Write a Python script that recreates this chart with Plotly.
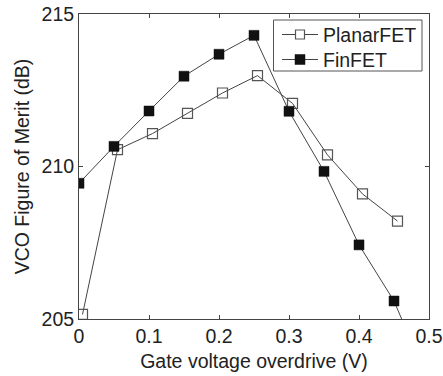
import plotly.graph_objects as go

# Gate voltage overdrive (V)
vov_planar = [0.005, 0.055, 0.105, 0.155, 0.205, 0.255, 0.305, 0.355, 0.405, 0.455]
vov_finfet = [0.0, 0.05, 0.10, 0.15, 0.20, 0.25, 0.30, 0.35, 0.40, 0.45, 0.50]

# VCO figure of merit (dB)
fom_planar = [205.15, 210.55, 211.08, 211.74, 212.41, 212.98, 212.07, 210.38, 209.10, 208.21]
fom_finfet = [209.45, 210.66, 211.82, 212.96, 213.68, 214.30, 211.81, 209.84, 207.43, 205.59, 202.9]

series_names = ["PlanarFET", "FinFET"]

x_ticks = [0, 0.1, 0.2, 0.3, 0.4, 0.5]
x_ticklabels = ["0", "0.1", "0.2", "0.3", "0.4", "0.5"]
y_ticks = [205, 210, 215]

W, H = 443, 376
ML, MR, MT, MB = 79, 14, 14, 57
PW, PH = W - ML - MR, H - MT - MB

font = dict(family="Liberation Sans, Arial, sans-serif", size=19.5, color="#222")
line_col = "#444"
open_col = "#555"
fill_col = "#111"

fig = go.Figure()
fig.add_trace(go.Scatter(
    x=vov_planar, y=fom_planar, name=series_names[0], mode="lines+markers",
    line=dict(color=line_col, width=1),
    marker=dict(symbol="square-open", size=10, color=open_col, line=dict(width=1.2, color=open_col)),
    showlegend=False,
))
fig.add_trace(go.Scatter(
    x=vov_finfet, y=fom_finfet, name=series_names[1], mode="lines+markers",
    line=dict(color=line_col, width=1),
    marker=dict(symbol="square", size=10, color=fill_col, line=dict(width=0.5, color=fill_col)),
    showlegend=False,
))


# Legend box drawn in paper coordinates (pixel offsets from the plot area)
def px(x):
    return (x - ML) / PW


def py(y):
    return (MT + PH - y) / PH


shapes = [dict(type="rect", xref="paper", yref="paper",
               x0=px(273.5), x1=px(422), y0=py(71), y1=py(20),
               line=dict(color="#555", width=1), fillcolor="white", layer="above")]
annotations = []
rows = [(34.5, "open"), (59.5, "filled")]
for (ry, style), name in zip(rows, series_names):
    shapes.append(dict(type="line", xref="paper", yref="paper",
                       x0=px(282), x1=px(318), y0=py(ry), y1=py(ry),
                       line=dict(color=line_col, width=1), layer="above"))
    half = 4.5 if style == "open" else 5
    shapes.append(dict(type="rect", xref="paper", yref="paper",
                       x0=px(300 - half), x1=px(300 + half), y0=py(ry + half), y1=py(ry - half),
                       line=dict(color=open_col if style == "open" else fill_col, width=1.2 if style == "open" else 0.5),
                       fillcolor="white" if style == "open" else fill_col, layer="above"))
    annotations.append(dict(xref="paper", yref="paper", x=px(321), y=py(ry),
                            xanchor="left", yanchor="middle", text=name,
                            showarrow=False, font=font))

axis_common = dict(
    showline=True, linecolor="#444", linewidth=1, mirror="ticks",
    ticks="inside", ticklen=4, tickcolor="#444", tickwidth=1,
    showgrid=False, zeroline=False, tickfont=font, automargin=False,
)

fig.update_layout(
    width=W, height=H,
    margin=dict(l=ML, r=MR, t=MT, b=MB),
    paper_bgcolor="white", plot_bgcolor="white",
    font=font,
    showlegend=False,
    shapes=shapes,
    annotations=annotations,
    xaxis=dict(
        range=[0, 0.5], tickvals=x_ticks, ticktext=x_ticklabels,
        title=dict(text="Gate voltage overdrive (V)", font=font, standoff=7),
        **axis_common,
    ),
    yaxis=dict(
        range=[205, 215], tickvals=y_ticks,
        title=dict(text="VCO Figure of Merit (dB)", font=font, standoff=6),
        **axis_common,
    ),
)

fig.write_html("out.html")
